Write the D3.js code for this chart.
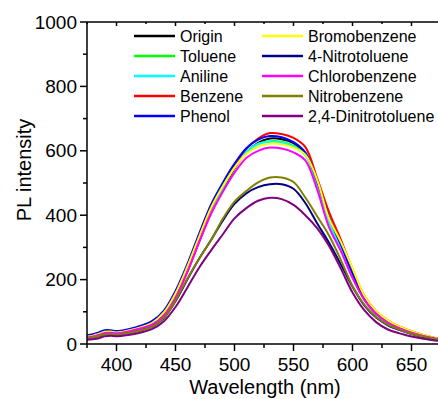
<!DOCTYPE html>
<html><head><meta charset="utf-8">
<script src="https://cdn.jsdelivr.net/npm/d3@7/dist/d3.min.js"></script>
<style>body{margin:0;background:#fff;}svg{display:block;font-family:Arial,"Liberation Sans",sans-serif;}</style>
</head><body>
<svg id="c" width="438" height="399"></svg>
<script>
const wavelengths = [375,380,385,390,395,400,410,420,430,440,450,460,470,480,490,500,510,520,530,540,550,560,570,580,590,600,610,620,630,640,650,660,670,675];
const seriesNames = ["Origin","Toluene","Aniline","Benzene","Phenol","Bromobenzene","4-Nitrotoluene","Chlorobenzene","Nitrobenzene","2,4-Dinitrotoluene"];
const seriesColors = ["#000000","#00ff00","#00ffff","#ff0000","#0000ff","#ffff00","#000080","#ff00ff","#808000","#800080"];
const origin    = [19,22,27,33,34,32,38,47,60,88,145,225,318,408,480,545,595,625,638,636,624,592,500,385,300,215,140,96,68,50,37,26,18,15];
const toluene   = [20,23,28,34,35,33,39,48,61,90,148,229,322,411,483,548,596,622,630,628,615,587,501,381,298,212,139,94,67,49,36,25,17,14];
const aniline   = [21,24,29,35,36,34,40,49,62,92,150,232,325,414,486,550,597,621,628,626,613,586,500,380,297,211,138,93,66,48,35,25,17,14];
const benzene   = [22,25,30,37,38,35,41,50,64,95,155,237,330,420,492,556,606,638,655,652,640,612,515,411,325,232,150,102,73,54,40,28,19,16];
const phenol    = [27,30,36,43,43,40,46,56,71,103,165,248,342,432,500,560,608,635,646,642,627,595,505,395,310,220,142,97,69,51,37,26,18,15];
const bromo     = [23,26,31,38,39,36,42,51,65,97,157,240,333,422,490,548,590,613,622,620,610,588,510,391,318,235,150,102,73,54,40,28,19,16];
const nitrotol  = [18,21,25,30,31,29,34,42,53,80,133,200,265,322,383,435,468,487,496,496,482,438,375,315,248,178,120,82,58,43,31,22,15,12];
const chloro    = [20,23,28,34,35,33,39,48,60,88,143,223,316,403,472,532,578,600,610,607,595,570,480,364,290,205,137,93,66,48,35,25,17,14];
const nitrobenz = [18,21,25,30,31,29,34,42,53,81,135,203,265,322,388,442,475,502,517,517,503,455,397,338,262,180,122,84,60,44,32,23,16,13];
const dnt       = [13,15,18,24,26,24,28,35,46,70,115,175,237,290,340,390,422,445,454,450,432,400,360,305,235,160,105,68,45,33,23,16,11,9];
const seriesValues = [origin,toluene,aniline,benzene,phenol,bromo,nitrotol,chloro,nitrobenz,dnt];
const xTicks = [400,450,500,550,600,650];
const yTicks = [0,200,400,600,800,1000];

const svg = d3.select("#c");
const L = 87, T = 22, B = 344;
const x = d3.scaleLinear().domain([375,675]).range([L, L + 300*1.18]);
const y = d3.scaleLinear().domain([0,1000]).range([B, T]);
const R = x(675);

const line = d3.line().x((d,i)=>x(wavelengths[i])).y(d=>y(d)).curve(d3.curveCatmullRom.alpha(0.5));
const g = svg.append("g");
seriesValues.forEach((vals,k)=>{
  g.append("path").attr("d", line(vals)).attr("fill","none")
   .attr("stroke", seriesColors[k]).attr("stroke-width", 2).attr("stroke-linejoin","round");
});

// axes
const ax = svg.append("g").attr("stroke","#000").attr("stroke-width",1.5);
ax.append("line").attr("x1",L).attr("x2",R).attr("y1",B).attr("y2",B);
ax.append("line").attr("x1",L).attr("x2",R).attr("y1",T).attr("y2",T);
ax.append("line").attr("x1",L).attr("x2",L).attr("y1",T).attr("y2",B);
d3.range(375,676,25).forEach(v=>{
  const major = v%50===0;
  ax.append("line").attr("x1",x(v)).attr("x2",x(v)).attr("y1",B).attr("y2",B+(major?7:4));
  ax.append("line").attr("x1",x(v)).attr("x2",x(v)).attr("y1",T).attr("y2",T+(major?4:2));
});
d3.range(0,1001,100).forEach(v=>{
  const major = v%200===0;
  ax.append("line").attr("x1",L).attr("x2",L-(major?7:4)).attr("y1",y(v)).attr("y2",y(v));
});
const tx = svg.append("g").attr("font-size",19).attr("fill","#000");
xTicks.forEach(v=>tx.append("text").attr("x",x(v)).attr("y",371).attr("text-anchor","middle").text(v));
yTicks.forEach(v=>tx.append("text").attr("x",77).attr("y",y(v)).attr("dy","0.35em").attr("text-anchor","end").text(v));
svg.append("text").attr("x",265).attr("y",394).attr("text-anchor","middle").attr("font-size",20).text("Wavelength (nm)");
svg.append("text").attr("transform","translate(31,170) rotate(-90)").attr("text-anchor","middle").attr("font-size",20).text("PL intensity");

// legend
const lg = svg.append("g").attr("font-size",16);
seriesNames.forEach((n,k)=>{
  const col = Math.floor(k/5), row = k%5;
  const x0 = col===0 ? 134 : 262;
  const yy = 36 + row*20;
  lg.append("line").attr("x1",x0).attr("x2",x0+41).attr("y1",yy).attr("y2",yy).attr("stroke",seriesColors[k]).attr("stroke-width",2.5);
  lg.append("text").attr("x",x0+46).attr("y",yy).attr("dy","0.36em").text(n);
});
</script>
</body></html>
